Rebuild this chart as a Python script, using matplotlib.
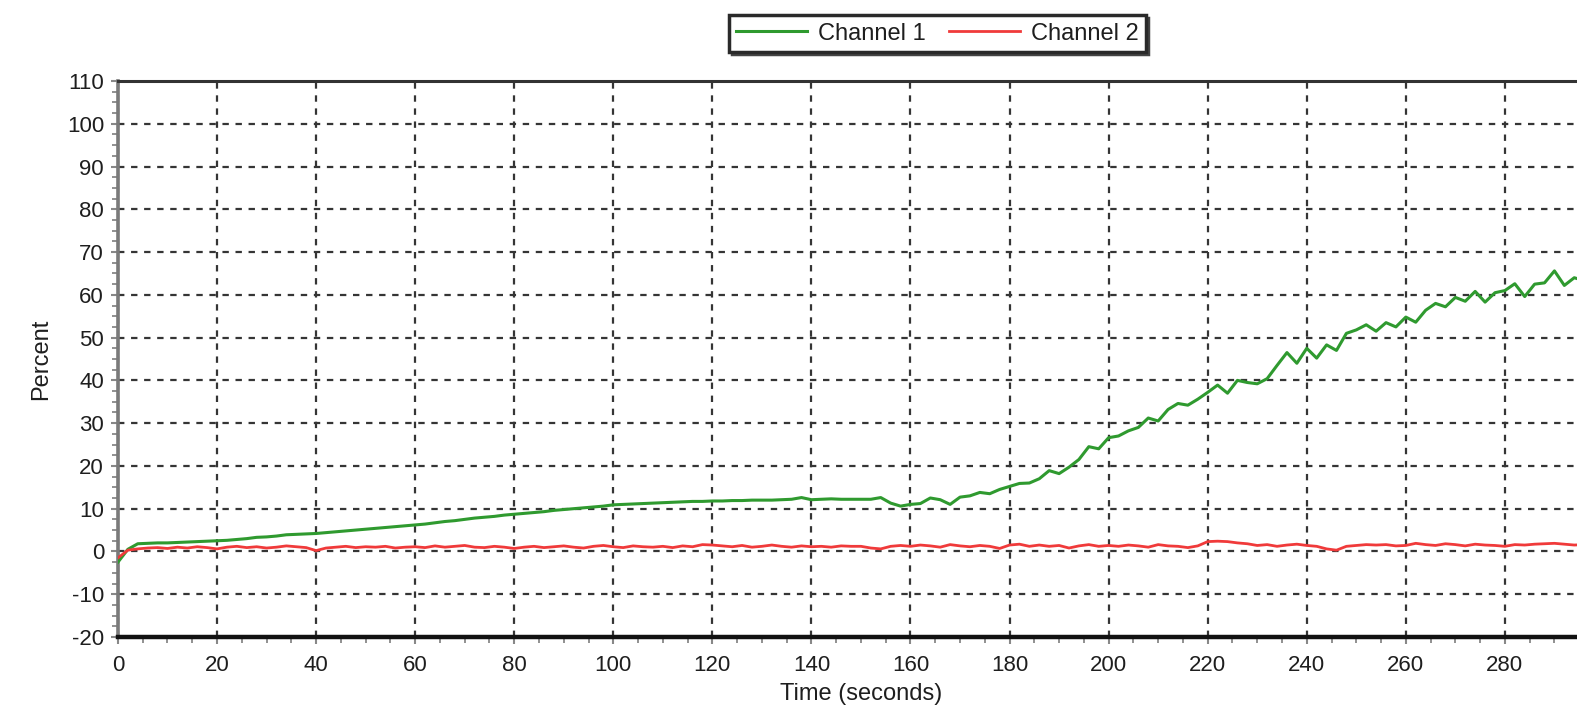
import numpy as np
import matplotlib
matplotlib.use("Agg")
import matplotlib.pyplot as plt
from matplotlib.ticker import MultipleLocator, FixedLocator

plt.rcParams['font.family'] = ['Liberation Sans', 'DejaVu Sans']
plt.rcParams['lines.scale_dashes'] = False
plt.rcParams['axes.unicode_minus'] = False

# Sample times (seconds), one reading every 2 s
time_s = np.arange(0, 297, 2)

channel_1 = [
    -2.5, 0.5, 1.8, 1.9, 2.0, 2.0, 2.1, 2.2, 2.3, 2.4,
    2.5, 2.6, 2.8, 3.0, 3.3, 3.4, 3.6, 3.9, 4.0, 4.1,
    4.2, 4.4, 4.6, 4.8, 5.0, 5.2, 5.4, 5.6, 5.8, 6.0,
    6.2, 6.4, 6.7, 7.0, 7.2, 7.5, 7.8, 8.0, 8.2, 8.5,
    8.7, 8.9, 9.1, 9.3, 9.6, 9.8, 10.0, 10.2, 10.4, 10.6,
    10.9, 11.0, 11.1, 11.2, 11.3, 11.4, 11.5, 11.6, 11.7, 11.7,
    11.8, 11.8, 11.9, 11.9, 12.0, 12.0, 12.0, 12.1, 12.2, 12.6,
    12.1, 12.2, 12.3, 12.2, 12.2, 12.2, 12.2, 12.6, 11.3, 10.6,
    11.0, 11.2, 12.5, 12.1, 11.0, 12.7, 13.0, 13.8, 13.5, 14.5,
    15.2, 15.9, 16.0, 17.0, 18.9, 18.2, 19.7, 21.5, 24.5, 24.0,
    26.6, 27.0, 28.2, 29.0, 31.2, 30.5, 33.2, 34.6, 34.2, 35.6,
    37.2, 38.9, 37.0, 40.0, 39.5, 39.2, 40.4, 43.5, 46.5, 44.0,
    47.5, 45.2, 48.3, 47.0, 51.0, 51.8, 53.0, 51.5, 53.5, 52.5,
    54.8, 53.6, 56.4, 58.0, 57.2, 59.4, 58.5, 60.8, 58.3, 60.5,
    61.0, 62.6, 59.6, 62.5, 62.8, 65.6, 62.2, 64.0, 63.3,
]

channel_2 = [
    -1.5, 0.3, 0.6, 0.8, 0.9, 0.7, 1.0, 0.8, 1.1, 0.9,
    0.6, 1.0, 1.2, 0.9, 1.1, 0.8, 1.0, 1.3, 1.1, 0.9,
    0.2, 0.8, 1.0, 1.2, 0.9, 1.1, 1.0, 1.2, 0.8, 1.0,
    1.1, 0.9, 1.3, 1.0, 1.2, 1.4, 1.0, 0.9, 1.2, 1.0,
    0.7, 1.0, 1.2, 0.9, 1.1, 1.3, 1.0, 0.8, 1.2, 1.4,
    1.1, 0.9, 1.3, 1.1, 1.0, 1.2, 0.9, 1.3, 1.1, 1.6,
    1.5, 1.3, 1.1, 1.4, 1.0, 1.2, 1.5, 1.2, 1.0, 1.3,
    1.1, 1.2, 1.0, 1.3, 1.2, 1.2, 0.8, 0.6, 1.2, 1.4,
    1.2, 1.5, 1.3, 1.0, 1.6, 1.3, 1.1, 1.4, 1.2, 0.7,
    1.5, 1.7, 1.2, 1.5, 1.2, 1.4, 0.8, 1.3, 1.6, 1.2,
    1.4, 1.2, 1.5, 1.3, 1.0, 1.6, 1.3, 1.2, 0.9, 1.3,
    2.3, 2.4, 2.3, 2.0, 1.8, 1.4, 1.6, 1.2, 1.5, 1.7,
    1.4, 1.2, 0.6, 0.3, 1.2, 1.4, 1.6, 1.5, 1.6, 1.3,
    1.4, 1.9, 1.6, 1.4, 1.8, 1.6, 1.3, 1.7, 1.5, 1.4,
    1.2, 1.6, 1.5, 1.7, 1.8, 1.9, 1.7, 1.5, 1.6,
]

x_ticks = [0, 20, 40, 60, 80, 100, 120, 140, 160, 180, 200, 220, 240, 260, 280]
x_limits = (0, 300)
y_limits = (-20, 110)

fig = plt.figure(figsize=(15.77, 7.08), dpi=100)
ax = fig.add_axes([0.0748, 0.1003, 0.9423, 0.7853])

ax.plot(time_s, channel_1, color='#2f9a2f', lw=2.2, label='Channel 1', zorder=3)
ax.plot(time_s, channel_2, color='#f03a3a', lw=2.0, label='Channel 2', zorder=3)

ax.set_xlim(*x_limits)
ax.set_ylim(*y_limits)

ax.xaxis.set_major_locator(FixedLocator(x_ticks))
ax.xaxis.set_minor_locator(MultipleLocator(5))
ax.yaxis.set_major_locator(MultipleLocator(10))
ax.yaxis.set_minor_locator(MultipleLocator(2.5))

ax.grid(True, which='major', color='#353535', lw=1.6, linestyle=(0, (4.6, 4.8)))

ax.tick_params(axis='both', which='both', direction='out', color='#888888')
ax.tick_params(axis='both', which='major', length=5, width=1.5, labelsize=16,
               labelcolor='#1e1e1e')
ax.tick_params(axis='both', which='minor', length=4, width=1.3)
ax.tick_params(axis='y', which='major', pad=5)
ax.tick_params(axis='x', which='major', pad=8)

for side, col, w in (('left', '#7a7a7a', 2.6), ('bottom', '#111111', 3.2),
                     ('top', '#333333', 2.2), ('right', '#333333', 2.2)):
    ax.spines[side].set_color(col)
    ax.spines[side].set_linewidth(w)

ax.set_xlabel('Time (seconds)', fontsize=17, color='#1e1e1e')
ax.set_ylabel('Percent', fontsize=17, color='#1e1e1e')
ax.yaxis.set_label_coords(-0.044, 0.5)
ax.xaxis.set_label_coords(0.5, -0.082)

leg = ax.legend(loc='center', bbox_to_anchor=(937.5 / 1577, 1 - 33.5 / 708),
                bbox_transform=fig.transFigure, ncol=2, fontsize=17,
                frameon=True, fancybox=False, handlelength=3.0,
                handletextpad=0.45, columnspacing=1.0, borderpad=0.3,
                borderaxespad=0.0,
                shadow={'color': '#444444', 'alpha': 1.0})
leg.get_frame().set_edgecolor('#2a2a2a')
leg.get_frame().set_linewidth(2.5)
leg.get_frame().set_facecolor('white')
for t in leg.get_texts():
    t.set_color('#1e1e1e')

fig.savefig('out.png', dpi=100)
